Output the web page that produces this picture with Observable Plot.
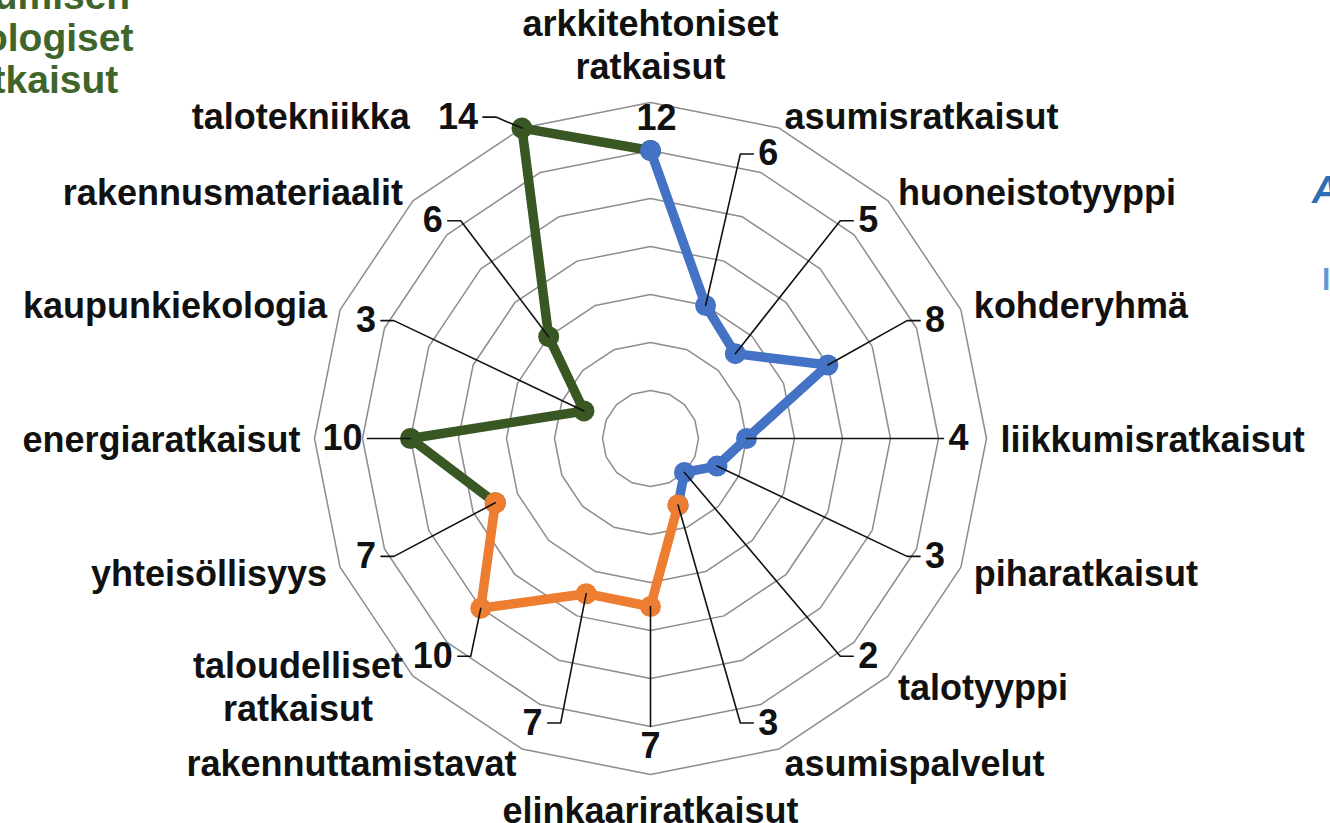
<!DOCTYPE html>
<html><head><meta charset="utf-8">
<script src="https://cdn.jsdelivr.net/npm/d3@7"></script>
<script src="https://cdn.jsdelivr.net/npm/@observablehq/plot@0.6"></script>
<style>
html,body{margin:0;padding:0;background:#fff;overflow:hidden;width:1330px;height:823px}
#wrap{position:relative;width:1330px;height:823px;overflow:hidden}
#chart{position:absolute;left:0;top:0}
.ttl{position:absolute;font-family:"Liberation Sans",Arial,sans-serif;font-weight:bold;white-space:nowrap}
</style></head><body>
<div id="wrap">
<div id="chart"></div>
<div class="ttl" style="left:-63px;width:200px;top:-25px;text-align:center;font-size:39px;line-height:42px;color:#40652a">Asumisen<br>ekologiset<br>ratkaisut</div>
<div class="ttl" style="left:1312px;top:169px;font-size:38px;line-height:42px;color:#2f6db5;font-style:italic">Asukaslähtöiset</div>
<div class="ttl" style="left:1322px;top:262px;font-size:30px;line-height:36px;color:#5b9bd5">laatu</div>
</div>
<script>
// ---- data ----
const categories = [
  "arkkitehtoniset\nratkaisut", "asumisratkaisut", "huoneistotyyppi", "kohderyhmä",
  "liikkumisratkaisut", "piharatkaisut", "talotyyppi", "asumispalvelut",
  "elinkaariratkaisut", "rakennuttamistavat", "taloudelliset\nratkaisut", "yhteisöllisyys",
  "energiaratkaisut", "kaupunkiekologia", "rakennusmateriaalit", "talotekniikka"
];
const values = [12, 6, 5, 8, 4, 3, 2, 3, 7, 7, 10, 7, 10, 3, 6, 14];
const blueMembers = [0, 1, 2, 3, 4, 5, 6, 7];
const orangeMembers = [7, 8, 9, 10, 11];
const greenMembers = [11, 12, 13, 14, 15, 0];
const ringLevels = [2, 4, 6, 8, 10, 12, 14];

// ---- layout / style ----
const W = 1330, H = 823, CX = 650, CY = 438, U = 24; // px per unit
const FS = 36;
const BLUE = "#4472c4", ORANGE = "#ed7d31", GREEN = "#385723";
const CAT_R = 350, VAL_R = 308;
const N = categories.length;
const ang = i => i * 2 * Math.PI / N;

const ctx = document.createElement("canvas").getContext("2d");
ctx.font = `bold ${FS}px "Liberation Sans"`;
const tw = s => Math.max(...s.split("\n").map(l => ctx.measureText(l).width));

// px relative to center (y down) -> data units
const D = (px, py) => ({x: px / U, y: -py / U});

const pts = values.map((v, i) => {
  const a = ang(i);
  return {i, v, px: v * U * Math.sin(a), py: -v * U * Math.cos(a)};
});

// rings
const ringData = ringLevels.flatMap(r => d3.range(N + 1).map(k => ({
  ring: r, x: r * Math.sin(ang(k)), y: r * Math.cos(ang(k))
})));

// value labels + leader lines
const valLabels = [], leaders = [];
const besideLeft = {};
pts.forEach(p => {
  const a = ang(p.i), s = Math.sin(a), c = Math.cos(a);
  const txt = String(p.v);
  const w = tw(txt);
  const side = s > 0.01 ? "right" : s < -0.01 ? "left" : (c > 0 ? "top" : "bottom");
  let lx, ly;
  if (p.v * U > VAL_R - 30) {
    if (side === "top" || side === "bottom") {
      const r = p.v * U + 32;
      lx = r * s + 6; ly = -r * c;
      valLabels.push({...D(lx, ly), text: txt});
      return;
    }
    const sg = side === "left" ? -1 : 1;
    lx = p.px + sg * 64; ly = p.py - 11;
    besideLeft[p.i] = lx - w / 2;
  } else {
    lx = VAL_R * s; ly = -VAL_R * c;
  }
  valLabels.push({...D(lx, ly), text: txt});
  let path;
  if (side === "right") {
    const ex = lx - w / 2 - 5;
    path = [[ex, ly], [ex - 13, ly], [p.px, p.py]];
  } else if (side === "left") {
    const ex = lx + w / 2 + 5;
    path = [[ex, ly], [ex + 13, ly], [p.px, p.py]];
  } else if (side === "bottom") {
    path = [[lx, ly - 20], [p.px, p.py]];
  } else {
    path = [[lx, ly + 20], [p.px, p.py]];
  }
  path.forEach(([x, y], k) => leaders.push({id: p.i, k, ...D(x, y)}));
});

// category labels
const catLabels = categories.map((name, i) => {
  const a = ang(i), s = Math.sin(a), c = Math.cos(a);
  let px = CAT_R * s, py = -CAT_R * c;
  const w = tw(name);
  const multi = name.includes("\n");
  let group;
  if (s > 0.01) {
    group = "start";
    if (multi) { group = "middle"; px += w / 2; }
  } else if (s < -0.01) {
    group = "end";
    if (besideLeft[i] !== undefined) px = besideLeft[i] - 28;
    if (multi) { group = "middle"; px -= w / 2; }
  } else if (c > 0) {
    group = "top"; py -= 10;
  } else {
    group = "bottom"; py += 4;
  }
  return {...D(px, py), text: name, group};
});

const catGroups = [
  {group: "start", textAnchor: "start", lineAnchor: "middle"},
  {group: "end", textAnchor: "end", lineAnchor: "middle"},
  {group: "middle", textAnchor: "middle", lineAnchor: "middle"},
  {group: "top", textAnchor: "middle", lineAnchor: "bottom"},
  {group: "bottom", textAnchor: "middle", lineAnchor: "top"}
];

const seriesDefs = [
  {members: greenMembers, color: GREEN},
  {members: blueMembers, color: BLUE},
  {members: orangeMembers, color: ORANGE}
];

const marks = [
  Plot.line(ringData, {x: "x", y: "y", z: "ring", stroke: "#8c8c8c", strokeWidth: 1.5})
];
seriesDefs.forEach(sd => {
  const data = sd.members.map(i => ({x: pts[i].px / U, y: -pts[i].py / U}));
  marks.push(Plot.line(data, {x: "x", y: "y", stroke: sd.color, strokeWidth: 9.5, strokeLinejoin: "round", strokeLinecap: "round"}));
  marks.push(Plot.dot(data, {x: "x", y: "y", r: 10.5, fill: sd.color, stroke: "none"}));
});
marks.push(Plot.line(leaders, {x: "x", y: "y", z: "id", stroke: "#111", strokeWidth: 1.6}));
marks.push(Plot.text(valLabels, {x: "x", y: "y", text: "text", fontSize: FS, fontWeight: "bold", fill: "#111", textAnchor: "middle", lineAnchor: "middle"}));
catGroups.forEach(g => {
  marks.push(Plot.text(catLabels.filter(d => d.group === g.group), {
    x: "x", y: "y", text: "text", fontSize: FS, fontWeight: "bold", fill: "#111",
    textAnchor: g.textAnchor, lineAnchor: g.lineAnchor, lineHeight: 1.19
  }));
});

const chart = Plot.plot({
  width: W, height: H, margin: 0,
  x: {domain: [-CX / U, (W - CX) / U], range: [0, W], axis: null},
  y: {domain: [-(H - CY) / U, CY / U], range: [H, 0], axis: null},
  style: {fontFamily: '"Liberation Sans", Arial, sans-serif', background: "white", overflow: "visible"},
  marks
});
document.getElementById("chart").appendChild(chart);
</script>
</body></html>
